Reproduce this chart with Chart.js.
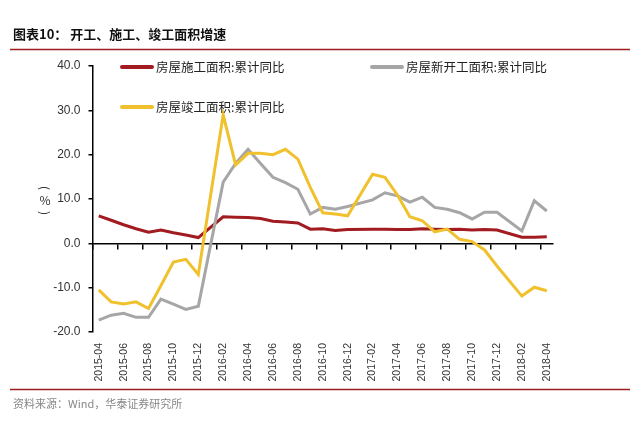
<!DOCTYPE html>
<html>
<head>
<meta charset="utf-8">
<script src="https://cdn.jsdelivr.net/npm/chart.js@4"></script>
<style>
  body { margin: 0; background: #fff; }
  #wrap { width: 640px; height: 423px; }
</style>
</head>
<body>
<div id="wrap"><canvas id="areaChart" width="640" height="423"></canvas></div>
<script>
// months on the x axis (January has no separate release, left empty)
const months = [
  '2015-04', '2015-05', '2015-06', '2015-07', '2015-08', '2015-09', '2015-10', '2015-11', '2015-12',
  '2016-01', '2016-02', '2016-03', '2016-04', '2016-05', '2016-06', '2016-07', '2016-08', '2016-09',
  '2016-10', '2016-11', '2016-12', '2017-01', '2017-02', '2017-03', '2017-04', '2017-05', '2017-06',
  '2017-07', '2017-08', '2017-09', '2017-10', '2017-11', '2017-12', '2018-01', '2018-02', '2018-03',
  '2018-04'
];

// cumulative YoY, %
const underConstruction = [6.2, 5.2, 4.2, 3.3, 2.5, 3.0, 2.4, 1.9, 1.3, null, 6.0, 5.9, 5.8, 5.6, 5.0, 4.8, 4.6, 3.2, 3.3, 2.9, 3.1, null,
  3.2, 3.2, 3.1, 3.1, 3.3, 3.2, 3.1, 3.2, 3.0, 3.1, 3.0, null, 1.4, 1.4, 1.5];
const newStarts = [-17.3, -16.2, -15.8, -16.7, -16.7, -12.6, -13.7, -14.9, -14.2, null, 13.8, 18.0, 21.2, 18.0, 14.9, 13.7, 12.2, 6.6, 8.1, 7.7, 8.3, null,
  9.8, 11.4, 10.7, 9.3, 10.4, 8.1, 7.7, 6.9, 5.5, 7.0, 7.0, null, 2.8, 9.6, 7.3];
const completed = [-10.5, -13.2, -13.7, -13.2, -14.7, -9.5, -4.2, -3.6, -7.0, null, 29.0, 17.7, 20.3, 20.3, 20.0, 21.2, 19.0, 12.6, 6.9, 6.6, 6.2, null,
  15.6, 14.9, 10.9, 6.0, 5.1, 2.6, 3.2, 0.9, 0.4, -1.5, -5.1, null, -11.9, -9.9, -10.7];

const seriesNames = ['房屋施工面积:累计同比', '房屋新开工面积:累计同比', '房屋竣工面积:累计同比'];
const yTicks = [-20, -10, 0, 10, 20, 30, 40];

const numFont = '"Liberation Sans", Arial, sans-serif';
const cjkFont = '"Noto Sans CJK SC", "Liberation Sans", sans-serif';

// title, source, frame lines, unit label and legend
const decorations = {
  id: 'decorations',
  afterDraw(chart) {
    const ctx = chart.ctx;
    ctx.save();
    ctx.strokeStyle = '#9b1d1d';
    ctx.lineWidth = 1.5;
    ctx.beginPath();
    ctx.moveTo(10, 49.5); ctx.lineTo(630, 49.5);
    ctx.moveTo(10, 389.5); ctx.lineTo(630, 389.5);
    ctx.stroke();

    ctx.textBaseline = 'middle';
    ctx.fillStyle = '#111';
    ctx.font = 'bold 13px ' + cjkFont;
    ctx.fillText('图表10： 开工、施工、竣工面积增速', 13, 34);

    ctx.fillStyle = '#888';
    ctx.font = '11px ' + cjkFont;
    ctx.fillText('资料来源：Wind，华泰证券研究所', 13, 404);

    // vertical unit label
    ctx.fillStyle = '#333';
    ctx.font = '12px ' + cjkFont;
    ctx.textAlign = 'center';
    ctx.fillText('%', 45, 200);
    [['(', 188], [')', 213]].forEach(([ch, y]) => {
      ctx.save();
      ctx.translate(45, y);
      ctx.rotate(Math.PI / 2);
      ctx.fillText(ch, 0, 0);
      ctx.restore();
    });

    // legend
    const spots = [[122, 67], [372, 67], [122, 107]];
    ctx.textAlign = 'left';
    ctx.font = '12.5px ' + cjkFont;
    ctx.lineCap = 'round';
    chart.data.datasets.forEach((ds, i) => {
      const [x, y] = spots[i];
      ctx.strokeStyle = ds.borderColor;
      ctx.lineWidth = 4;
      ctx.beginPath();
      ctx.moveTo(x, y); ctx.lineTo(x + 30, y);
      ctx.stroke();
      ctx.fillStyle = '#222';
      ctx.fillText(ds.label, x + 34, y);
    });
    ctx.restore();
  }
};

function makeLine(label, data, color, order) {
  return {
    label: label,
    data: data,
    borderColor: color,
    backgroundColor: color,
    borderWidth: 3,
    pointRadius: 0,
    tension: 0,
    spanGaps: true,
    order: order
  };
}

new Chart(document.getElementById('areaChart'), {
  type: 'line',
  data: {
    labels: months,
    datasets: [
      makeLine(seriesNames[0], underConstruction, '#a11b20', 2),
      makeLine(seriesNames[1], newStarts, '#a6a6a6', 1),
      makeLine(seriesNames[2], completed, '#f0c12c', 0)
    ]
  },
  options: {
    responsive: false,
    animation: false,
    layout: { padding: { left: 40, right: 87, top: 66, bottom: 0 } },
    plugins: { legend: { display: false }, tooltip: { enabled: false } },
    scales: {
      x: {
        type: 'category',
        offset: true,
        grid: { display: false },
        border: { display: false },
        ticks: {
          autoSkip: false,
          minRotation: 90,
          maxRotation: 90,
          padding: 3,
          color: '#333',
          font: { family: numFont, size: 10.5 },
          callback: (val, i) => (i % 2 === 0 ? months[i] : '')
        },
        afterFit: (scale) => { scale.height = 91; }
      },
      x2: {
        type: 'category',
        position: { y: 0 },
        offset: true,
        grid: {
          offset: true,
          drawOnChartArea: false,
          drawTicks: true,
          tickLength: 5,
          lineWidth: 1.5,
          tickColor: (c) => (c.index % 2 === 0 ? '#000' : 'rgba(0,0,0,0)')
        },
        border: { display: true, color: '#000', width: 1.5 },
        ticks: { display: false }
      },
      y: {
        min: -20,
        max: 40,
        afterBuildTicks: (scale) => { scale.ticks = yTicks.map(v => ({ value: v })); },
        grid: { drawOnChartArea: false, drawTicks: true, tickLength: 4, color: '#000', lineWidth: 1.5 },
        border: { display: true, color: '#000', width: 1.5 },
        ticks: {
          padding: 8,
          color: '#333',
          font: { family: numFont, size: 12 },
          callback: (v) => v.toFixed(1)
        },
        afterFit: (scale) => { scale.width = 52.5; }
      }
    }
  },
  plugins: [decorations]
});
</script>
</body>
</html>
